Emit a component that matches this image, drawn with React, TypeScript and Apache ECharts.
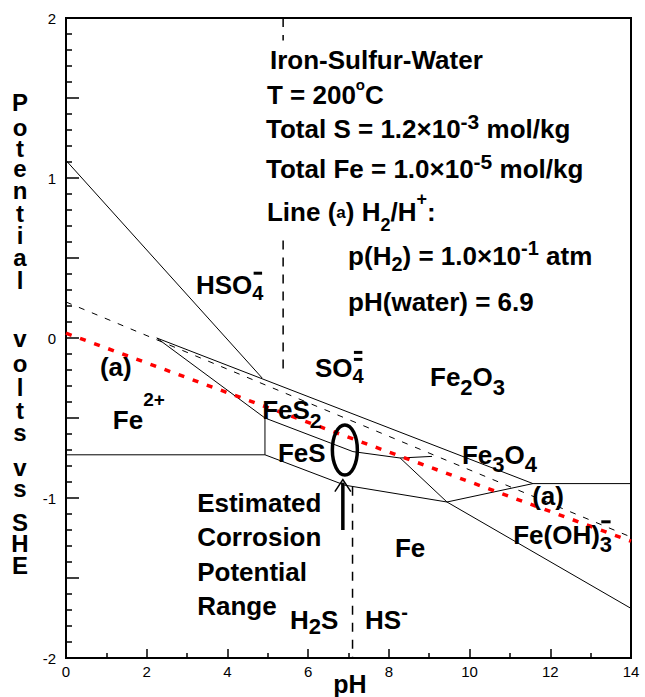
import React, { useEffect, useRef } from "react";
import * as echarts from "echarts";

const FONT = '"Liberation Sans", Arial, Helvetica, sans-serif';

// ---- axes ----
const PH_RANGE = [0, 14];
const E_RANGE = [-2, 2];
const E_TICK_LABELS = [-2, -1, 0, 1, 2];

// ---- boundary lines, [pH, E(V vs SHE)] ----
const fe2o3Fe2Line = [[0, 1.11], [4.86, -0.25]];
const fes2UpperLine = [[2.25, 0.0], [11.57, -0.91], [14, -0.91]];
const fes2LowerLine = [[2.25, 0.0], [4.93, -0.5], [7.11, -0.71], [8.28, -0.75], [9.44, -1.025]];
const fes2Fe3o4Stub = [[8.28, -0.75], [9.07, -0.74]];
const fe2FeLine = [[0, -0.73], [4.93, -0.73], [4.93, -0.5]];
const fesFeLine = [[4.93, -0.73], [6.91, -0.92], [9.44, -1.025]];
const feFe3o4Line = [[9.44, -1.025], [11.57, -0.91]];
const feFeoh3Line = [[9.44, -1.025], [14, -1.69]];
const waterDashedLine = [[0, 0.225], [14, -1.244]];
const h2LineA = [[0, 0.03], [14, -1.27]];
const hso4So4Top = [[5.38, 2], [5.38, 1.86]];
const hso4So4Bottom = [[5.38, 0.61], [5.38, -0.24]];
const h2sHsLine = [[7.1, -0.93], [7.1, -2]];

// estimated corrosion potential range (ellipse) and arrow
const corrosionCenter = [6.91, -0.7];
const arrowFrom = [6.86, -1.2];
const arrowTo = [6.86, -0.885];

type Part = [string, string];
type Lbl = {
  at: number[];
  parts: Part[];
  size?: number;
  lh?: number;
  small?: number;
  subH?: number;
  supH?: number;
  barH?: number;
  smSize?: number;
  barDy?: number[];
};

const infoLines: Lbl[] = [
  { at: [5.055, 1.7375], parts: [["m", "Iron-Sulfur-Water"]] },
  { at: [4.98, 1.519], parts: [["m", "T = 200"], ["sup", "o"], ["m", "C"]], small: 15, supH: 22 },
  { at: [4.956, 1.306], parts: [["m", "Total S = 1.2×10"], ["sup", "-3"], ["m", " mol/kg"]], small: 21, supH: 14 },
  { at: [4.956, 1.056], parts: [["m", "Total Fe = 1.0×10"], ["sup", "-5"], ["m", " mol/kg"]], small: 21, supH: 18 },
  {
    at: [4.98, 0.7875],
    parts: [["m", "Line ("], ["sm", "a"], ["m", ") H"], ["sub", "2"], ["m", "/H"], ["sup", "+"], ["m", ":"]],
    lh: 44, small: 18, subH: 18, supH: 28,
  },
  {
    at: [6.99, 0.5125],
    parts: [["m", "p(H"], ["sub", "2"], ["m", ") = 1.0×10"], ["sup", "-1"], ["m", " atm"]],
    small: 20, subH: 22, supH: 12,
  },
  { at: [6.99, 0.225], parts: [["m", "pH(water) = 6.9"]] },
];

// "bar" parts are drawn as short strokes above the following subscript
const regionLabels: Lbl[] = [
  { at: [3.22, 0.33], parts: [["m", "HSO"], ["bar", ""], ["sub", "4"]], small: 20, subH: 20, barDy: [-12] },
  { at: [6.17, -0.19], parts: [["m", "SO"], ["bar", ""], ["sub", "4"]], small: 20, subH: 18, barDy: [-16, -9] },
  { at: [9.02, -0.245], parts: [["m", "Fe"], ["sub", "2"], ["m", "O"], ["sub", "3"]], lh: 42, small: 22, subH: 22 },
  { at: [0.84, -0.18], parts: [["m", "(a)"]] },
  { at: [1.16, -0.51], parts: [["m", "Fe"], ["sup", "2+"]], lh: 60, small: 19, supH: 20 },
  { at: [4.86, -0.45], parts: [["m", "FeS"], ["sub", "2"]], lh: 42, small: 21, subH: 12 },
  { at: [5.25, -0.72], parts: [["m", "FeS"]] },
  { at: [9.81, -0.73], parts: [["m", "Fe"], ["sub", "3"], ["m", "O"], ["sub", "4"]], lh: 42, small: 22, subH: 22 },
  { at: [11.55, -0.99], parts: [["m", "(a)"]] },
  { at: [11.08, -1.23], parts: [["m", "Fe(OH)"], ["bar", ""], ["sub", "3"]], lh: 42, small: 22, subH: 18, barDy: [-13] },
  { at: [8.15, -1.31], parts: [["m", "Fe"]] },
  { at: [3.25, -1.03], parts: [["m", "Estimated"]] },
  { at: [3.25, -1.245], parts: [["m", "Corrosion"]] },
  { at: [3.25, -1.46], parts: [["m", "Potential"]] },
  { at: [3.25, -1.675], parts: [["m", "Range"]] },
  { at: [5.55, -1.76], parts: [["m", "H"], ["sub", "2"], ["m", "S"]], small: 22, subH: 16 },
  { at: [7.41, -1.76], parts: [["m", "HS"], ["hi", "-"]], small: 20, barH: 16 },
];

// y-axis title, one letter per row
const yTitleLetters = ["P", "o", "t", "e", "n", "t", "i", "a", "l", "v", "o", "l", "t", "s", "v", "s", "S", "H", "E"];
const yTitleRows = [102, 127, 148, 168, 190, 213, 235, 257, 280, 338, 363, 387, 410, 432, 467, 488, 522, 543, 565];

let measureCtx: CanvasRenderingContext2D | null = null;
function textWidth(text: string, size: number) {
  if (!measureCtx) measureCtx = document.createElement("canvas").getContext("2d");
  if (!measureCtx) return text.length * size * 0.55;
  measureCtx.font = `bold ${size}px ${FONT}`;
  return measureCtx.measureText(text).width;
}

function lineSeries(name: string, data: number[][], style: any, z = 2) {
  return {
    name,
    type: "line",
    data,
    showSymbol: false,
    symbol: "none",
    silent: true,
    z,
    lineStyle: { color: "#000", width: 1, ...style },
  };
}

function buildLabel(lbl: Lbl, chart: any, out: any[]) {
  const [x, y] = chart.convertToPixel({ gridIndex: 0 }, lbl.at);
  const main = lbl.size ?? 26;
  const lh = lbl.lh ?? 36;
  const small = lbl.small ?? 20;
  const base = { fontFamily: FONT, fontWeight: "bold", fill: "#000" };
  const rich: any = {
    m: { ...base, fontSize: main, lineHeight: lh },
    sub: { ...base, fontSize: small, lineHeight: lbl.subH ?? small, verticalAlign: "bottom" },
    sup: { ...base, fontSize: small, lineHeight: lbl.supH ?? small, verticalAlign: "top" },
    hi: { ...base, fontSize: small, lineHeight: lbl.barH ?? 10, verticalAlign: "top" },
    sm: { ...base, fontSize: lbl.smSize ?? 17, lineHeight: lh },
  };
  const sizeOf = (s: string) => (s === "m" ? main : s === "sm" ? lbl.smSize ?? 17 : small);
  let offset = 0;
  const parts = lbl.parts;
  parts.forEach(([s, t], i) => {
    if (s === "bar") {
      const next = parts[i + 1];
      const w = next ? textWidth(next[1], sizeOf(next[0])) : 10;
      (lbl.barDy ?? [-12]).forEach((dy) => {
        out.push({
          type: "rect",
          z: 50,
          silent: true,
          shape: { x: x + offset + w * 0.12, y: y + dy - 1.5, width: w * 0.76, height: 3 },
          style: { fill: "#000" },
        });
      });
    } else {
      offset += textWidth(t, sizeOf(s));
    }
  });
  const text = parts
    .filter(([s]) => s !== "bar")
    .map(([s, t]) => `{${s}|${t}}`)
    .join("");
  out.push({
    type: "text",
    x,
    y,
    z: 50,
    silent: true,
    style: {
      text,
      rich,
      fill: "#000",
      font: `bold ${main}px ${FONT}`,
      align: "left",
      verticalAlign: "middle",
      textAlign: "left",
      textVerticalAlign: "middle",
    },
  });
}

export default function App() {
  const ref = useRef<HTMLDivElement>(null);

  useEffect(() => {
    if (!ref.current) return;
    const chart = echarts.init(ref.current, undefined, { renderer: "svg" });

    const axisCommon = {
      type: "value",
      splitLine: { show: false },
      axisLine: { show: true, onZero: false, lineStyle: { color: "#000", width: 2 } },
    };

    chart.setOption({
      animation: false,
      backgroundColor: "#fff",
      grid: { left: 66, top: 18, width: 565, height: 640, show: true, borderColor: "#000", borderWidth: 2, backgroundColor: "transparent" },
      xAxis: {
        ...axisCommon,
        min: PH_RANGE[0],
        max: PH_RANGE[1],
        interval: 2,
        axisTick: { show: true, inside: true, length: 9, lineStyle: { color: "#000", width: 1.5 } },
        minorTick: { show: true, splitNumber: 2, length: 5, lineStyle: { color: "#000", width: 1.5 } },
        minorSplitLine: { show: false },
        axisLabel: { color: "#000", fontSize: 15, fontFamily: FONT, margin: 6 },
      },
      yAxis: {
        ...axisCommon,
        min: E_RANGE[0],
        max: E_RANGE[1],
        interval: 0.5,
        axisTick: { show: true, inside: true, length: 13, lineStyle: { color: "#000", width: 1.5 } },
        minorTick: { show: true, splitNumber: 5, length: 6, lineStyle: { color: "#000", width: 1.5 } },
        minorSplitLine: { show: false },
        axisLabel: {
          color: "#000",
          fontSize: 15,
          fontFamily: FONT,
          margin: 10,
          formatter: (v: number) => {
            const hit = E_TICK_LABELS.find((t) => Math.abs(t - v) < 1e-6);
            return hit === undefined ? "" : String(hit);
          },
        },
      },
      series: [
        lineSeries("Fe2O3/Fe2+", fe2o3Fe2Line, {}),
        lineSeries("FeS2 upper", fes2UpperLine, {}),
        lineSeries("FeS2 lower", fes2LowerLine, {}),
        lineSeries("FeS2/Fe3O4", fes2Fe3o4Stub, {}),
        lineSeries("Fe2+/Fe", fe2FeLine, {}),
        lineSeries("FeS/Fe", fesFeLine, {}),
        lineSeries("Fe/Fe3O4", feFe3o4Line, {}),
        lineSeries("Fe/Fe(OH)3-", feFeoh3Line, {}),
        lineSeries("water", waterDashedLine, { type: [6, 8] }),
        lineSeries("HSO4-/SO4= top", hso4So4Top, { type: [9, 8], width: 1.5 }),
        lineSeries("HSO4-/SO4=", hso4So4Bottom, { type: [9, 8], width: 1.5 }),
        lineSeries("H2S/HS-", h2sHsLine, { type: [9, 8], width: 1.5 }),
        lineSeries("H2/H+ (a)", h2LineA, { color: "#ff0000", width: 3.5, type: [6, 9] }, 5),
      ],
    });

    const c = chart.convertToPixel({ gridIndex: 0 }, corrosionCenter) as number[];
    const a0 = chart.convertToPixel({ gridIndex: 0 }, arrowFrom) as number[];
    const a1 = chart.convertToPixel({ gridIndex: 0 }, arrowTo) as number[];

    const graphics: any[] = [];
    infoLines.forEach((l) => buildLabel(l, chart, graphics));
    regionLabels.forEach((l) => buildLabel(l, chart, graphics));

    graphics.push({
      type: "ellipse",
      z: 60,
      silent: true,
      shape: { cx: c[0], cy: c[1], rx: 12.5, ry: 25 },
      style: { fill: "none", stroke: "#000", lineWidth: 3.5 },
    });
    graphics.push({
      type: "line",
      z: 60,
      silent: true,
      shape: { x1: a0[0], y1: a0[1], x2: a1[0], y2: a1[1] + 3 },
      style: { stroke: "#000", lineWidth: 3.5 },
    });
    graphics.push({
      type: "polyline",
      z: 60,
      silent: true,
      shape: { points: [[a1[0] - 8, a1[1] + 12], [a1[0], a1[1]], [a1[0] + 8, a1[1] + 12]] },
      style: { fill: "none", stroke: "#000", lineWidth: 1.5 },
    });

    yTitleLetters.forEach((ch, i) => {
      graphics.push({
        type: "text",
        x: 20,
        y: yTitleRows[i],
        z: 50,
        silent: true,
        style: {
          text: ch,
          fill: "#000",
          font: `bold 24px ${FONT}`,
          align: "center",
          verticalAlign: "middle",
          textAlign: "center",
          textVerticalAlign: "middle",
        },
      });
    });

    graphics.push({
      type: "text",
      x: 350,
      y: 684,
      z: 50,
      silent: true,
      style: {
        text: "pH",
        fill: "#000",
        font: `bold 25px ${FONT}`,
        align: "center",
        verticalAlign: "middle",
        textAlign: "center",
        textVerticalAlign: "middle",
      },
    });

    chart.setOption({ graphic: graphics });

    return () => chart.dispose();
  }, []);

  return <div ref={ref} style={{ position: "absolute", left: 0, top: 0, width: 645, height: 697 }} />;
}
